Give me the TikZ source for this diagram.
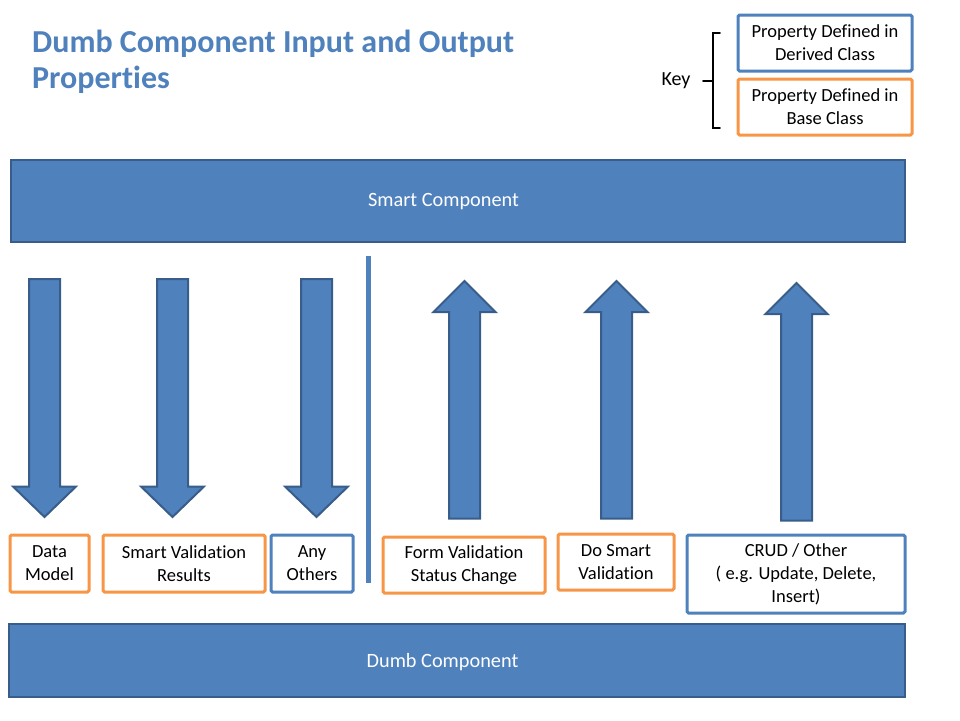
\documentclass[tikz,border=0pt]{standalone}
\usepackage{fontspec}
\setmainfont{Carlito}[Ligatures={NoCommon,NoRequired,NoContextual}, RawFeature={-liga;-dlig}]
\definecolor{ofblue}{HTML}{4F81BD}
\definecolor{ofdark}{HTML}{385D8A}
\definecolor{oforange}{HTML}{F79646}
\tikzset{
  compbox/.style={draw=ofdark, fill=ofblue, line width=2.2pt, inner sep=0pt},
  comptext/.style={text=white, font=\fontsize{20.3}{24}\selectfont, inner sep=0pt},
  bluebox/.style={draw=ofblue, fill=white, line width=3pt, rounded corners=1.5pt, align=center, font=\fontsize{18.5}{23}\selectfont, inner sep=0pt},
  orangebox/.style={bluebox, draw=oforange},
  blockarrow/.style={draw=ofdark, fill=ofblue, line width=2pt, line join=miter},
  downarrow/.pic={\draw[blockarrow] (-15.5,0) -- (15.5,0) -- (15.5,207.5) -- (31.5,207.5) -- (0,238) -- (-31.5,207.5) -- (-15.5,207.5) -- cycle;},
  uparrow/.pic={\draw[blockarrow] (0,0) -- (31,31) -- (15.5,31) -- (15.5,#1) -- (-15.5,#1) -- (-15.5,31) -- (-31,31) -- cycle;},
}
\begin{document}
\begin{tikzpicture}[x=1pt, y=-1pt]
\useasboundingbox (0,0) rectangle (960,720);
% title
\node[anchor=base west, text=ofblue, font=\fontsize{32}{36}\selectfont\bfseries, inner sep=0pt] (title1) at (32,52) {Dumb Component Input and Output};
\node[anchor=base west, text=ofblue, font=\fontsize{32}{36}\selectfont\bfseries, inner sep=0pt] (title2) at (32,88) {Properties};
% key
\node[font=\fontsize{20}{24}\selectfont, inner sep=0pt] (key) at (676,80.5) {Key};
\node[bluebox, minimum width=174pt, minimum height=56pt] (kblue) at (825,43) {Property Defined in\\Derived Class};
\node[orangebox, minimum width=174pt, minimum height=56pt] (korange) at (825,107) {Property Defined in\\Base Class};
\draw[line width=1.6pt, line cap=round] (720,33) -- (713,33) -- (713,128) -- (720,128);
\draw[line width=1.6pt, line cap=round] (703,81) -- (713,81);
% components
\node[compbox, minimum width=894pt, minimum height=82pt] (smart) at (458,201) {};
\node[comptext] (smartlabel) at (443.5,202) {Smart Component};
\node[compbox, minimum width=896pt, minimum height=73pt] (dumb) at (457,660.5) {};
\node[comptext] (dumblabel) at (442.5,662) {Dumb Component};
% divider
\draw[ofblue, line width=5pt] (368,256) -- (368,583);
% arrows
\pic at (44.5,279) {downarrow};
\pic at (172.5,279) {downarrow};
\pic at (316.5,279) {downarrow};
\pic at (464.5,281) {uparrow=237.5};
\pic at (616.5,281) {uparrow=237.5};
\pic at (796.5,283) {uparrow=237.5};
% property boxes
\node[orangebox, minimum width=79pt, minimum height=57pt] (data) at (49.5,563.5) {Data\\Model};
\node[orangebox, minimum width=162pt, minimum height=57pt] (svr) at (184,563.5) {Smart Validation\\Results};
\node[bluebox, minimum width=82pt, minimum height=57pt] (any) at (312,563.5) {Any\\Others};
\node[orangebox, minimum width=162pt, minimum height=56pt] (fvs) at (464,565) {Form Validation\\Status Change};
\node[orangebox, minimum width=116pt, minimum height=56pt] (dsv) at (616,562) {Do Smart\\Validation};
\node[bluebox, minimum width=218pt, minimum height=78pt] (crud) at (796,574) {CRUD / Other\\( e.g. Update, Delete,\\Insert)};
\end{tikzpicture}
\end{document}
